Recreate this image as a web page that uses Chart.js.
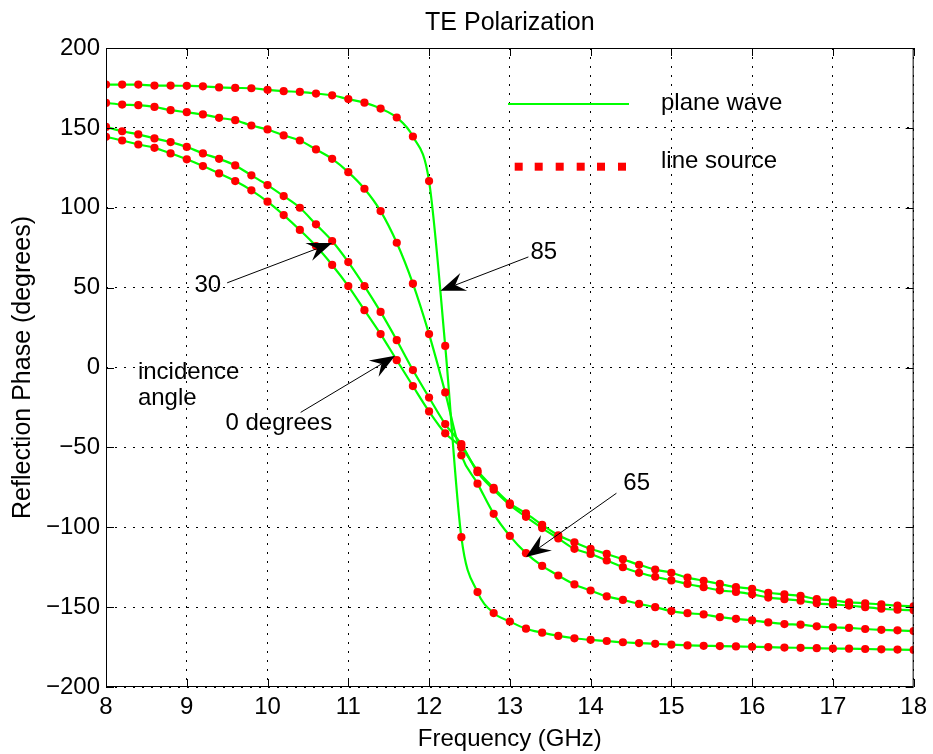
<!DOCTYPE html>
<html>
<head>
<meta charset="utf-8">
<script src="https://cdn.jsdelivr.net/npm/chart.js@4.4.0/dist/chart.umd.min.js"></script>
<style>
  html, body { margin: 0; padding: 0; background: #fff; }
  #wrap { width: 933px; height: 754px; }
</style>
</head>
<body>
<div id="wrap"><canvas id="chart-phase"></canvas></div>
<script>
const freq = [8.0, 8.2, 8.4, 8.6, 8.8, 9.0, 9.2, 9.4, 9.6, 9.8,
  10.0, 10.2, 10.4, 10.6, 10.8, 11.0, 11.2, 11.4, 11.6, 11.8,
  12.0, 12.2, 12.4, 12.6, 12.8, 13.0, 13.2, 13.4, 13.6, 13.8,
  14.0, 14.2, 14.4, 14.6, 14.8, 15.0, 15.2, 15.4, 15.6, 15.8,
  16.0, 16.2, 16.4, 16.6, 16.8, 17.0, 17.2, 17.4, 17.6, 17.8, 18.0];

// reflection phase (degrees) for each incidence angle
const phase0 = [144.4, 142.1, 139.6, 137.5, 134, 130.3, 126.1, 121.5, 116.7, 110.9,
  103.8, 95.4, 86.1, 76, 64.2, 51, 35.9, 20.9, 4.6, -11.6,
  -27.5, -41.2, -50, -64.6, -75.4, -85, -91.3, -98.5, -105, -109.4,
  -113.5, -116.7, -120, -123.5, -126.5, -128.5, -131.5, -133.5, -135.5, -137.5,
  -138.5, -141, -142, -143, -145, -145.8, -147, -147.6, -148.3, -149, -149.5];
const phase30 = [150.6, 147.9, 145.9, 143.4, 141.1, 138.1, 134, 130.6, 126.5, 120.3,
  114.2, 107.3, 100, 89.6, 79.2, 66, 51, 34.8, 17.1, -1.6,
  -18.8, -35.4, -48, -65.5, -76.5, -86, -93.5, -100.5, -107, -113.5,
  -116.7, -120.8, -125, -128.5, -131, -133.3, -135.5, -137.5, -139.5, -140.5,
  -142, -144, -145, -146, -147.6, -148.3, -149, -150, -151, -151.6, -152];
const phase65 = [165.6, 164.6, 164.2, 163.1, 161.1, 159.8, 158.4, 156.3, 154.8, 151.5,
  149, 145.3, 142.1, 136.5, 130.6, 122.3, 111.9, 97.9, 78.1, 52.5,
  20.9, -15.6, -55, -72.7, -91.6, -105.4, -116.2, -124.2, -130.2, -135.8,
  -139.6, -143.3, -145.5, -148, -150, -152.5, -153.8, -154.6, -156.3, -157.3,
  -158.3, -159.6, -160.6, -161, -162, -162.6, -163, -163.7, -164.2, -164.5, -165];
const phase85 = [177.1, 177.1, 177.1, 176.5, 176.5, 176.3, 176, 175.3, 175, 174.8,
  173.8, 173, 172.5, 171.5, 170.4, 168, 165.8, 162.1, 156.5, 144.6,
  116.7, 13.5, -106.2, -140.6, -153.7, -159, -163.5, -166, -168, -169.5,
  -170.5, -171.2, -172, -172.5, -173, -173.5, -174, -174.2, -174.4, -174.6,
  -174.8, -175, -175.3, -175.5, -175.7, -175.9, -176, -176.2, -176.4, -176.6, -176.8];

const xTicks = [8, 9, 10, 11, 12, 13, 14, 15, 16, 17, 18];
const yTicks = [-200, -150, -100, -50, 0, 50, 100, 150, 200];

// text notes and arrows, in data units
const labels = [
  { text: '30', x: 9.26, y: 51.5, align: 'center' },
  { text: '85', x: 13.42, y: 72.3, align: 'center' },
  { text: '65', x: 14.57, y: -72.7, align: 'center' },
  { text: 'incidence', x: 8.395, y: -3, align: 'left' },
  { text: 'angle', x: 8.395, y: -19.5, align: 'left' },
  { text: '0 degrees', x: 10.14, y: -35.2, align: 'center' }
];
const arrows = [
  { from: [9.5, 53], to: [10.8, 78] },
  { from: [13.23, 69.2], to: [12.14, 48] },
  { from: [10.41, -28.1], to: [11.58, 7.3] },
  { from: [14.32, -78.7], to: [13.2, -118.7] }
];

const GREEN = '#00ff00';
const RED = '#ff0000';
Chart.defaults.font.family = "'Liberation Sans', Arial, Helvetica, sans-serif";
Chart.defaults.font.size = 24;
Chart.defaults.color = '#000';

const toPoints = arr => arr.map((v, i) => ({ x: freq[i], y: v }));
const datasets = [];
[phase0, phase30, phase65, phase85].forEach(c => {
  datasets.push({
    label: 'plane wave', data: toPoints(c),
    borderColor: GREEN, borderWidth: 2.2, pointRadius: 0,
    cubicInterpolationMode: 'monotone', order: 2
  });
  datasets.push({
    label: 'line source', data: toPoints(c), showLine: false,
    pointRadius: 4.1, pointBackgroundColor: RED, pointBorderWidth: 0, order: 1
  });
});

function drawArrow(ctx, x1, y1, x2, y2) {
  const ang = Math.atan2(y2 - y1, x2 - x1);
  const len = 25, half = 9.5, notch = 16;
  ctx.beginPath();
  ctx.moveTo(x1, y1);
  ctx.lineTo(x2 - notch * Math.cos(ang), y2 - notch * Math.sin(ang));
  ctx.stroke();
  ctx.save();
  ctx.translate(x2, y2);
  ctx.rotate(ang);
  ctx.beginPath();
  ctx.moveTo(0, 0);
  ctx.lineTo(-len, -half);
  ctx.lineTo(-notch, 0);
  ctx.lineTo(-len, half);
  ctx.closePath();
  ctx.fill();
  ctx.restore();
}

const matlabFrame = {
  id: 'matlabFrame',
  afterDraw(chart) {
    const { ctx, chartArea: a, scales: { x, y } } = chart;
    ctx.save();
    ctx.strokeStyle = '#000';
    ctx.fillStyle = '#000';
    ctx.lineWidth = 1;
    ctx.setLineDash([]);
    ctx.strokeRect(a.left + 0.5, a.top + 0.5, a.right - a.left - 1, a.bottom - a.top - 1);
    const tl = 8;
    ctx.beginPath();
    xTicks.forEach(v => {
      const px = Math.round(x.getPixelForValue(v)) + 0.5;
      ctx.moveTo(px, a.bottom); ctx.lineTo(px, a.bottom - tl);
      ctx.moveTo(px, a.top); ctx.lineTo(px, a.top + tl);
    });
    yTicks.forEach(v => {
      const py = Math.round(y.getPixelForValue(v)) + 0.5;
      ctx.moveTo(a.left, py); ctx.lineTo(a.left + tl, py);
      ctx.moveTo(a.right, py); ctx.lineTo(a.right - tl, py);
    });
    ctx.stroke();

    // arrows and notes
    arrows.forEach(ar => {
      drawArrow(ctx, x.getPixelForValue(ar.from[0]), y.getPixelForValue(ar.from[1]),
        x.getPixelForValue(ar.to[0]), y.getPixelForValue(ar.to[1]));
    });
    ctx.font = "24px 'Liberation Sans', Arial, sans-serif";
    ctx.textBaseline = 'middle';
    labels.forEach(l => {
      ctx.textAlign = l.align;
      ctx.fillText(l.text, x.getPixelForValue(l.x), y.getPixelForValue(l.y));
    });

    // legend
    const lx = a.left + 402, ly = a.top + 56;
    ctx.strokeStyle = GREEN;
    ctx.lineWidth = 2;
    ctx.beginPath();
    ctx.moveTo(lx, ly); ctx.lineTo(lx + 121, ly);
    ctx.stroke();
    ctx.fillStyle = RED;
    [10.7, 30.7, 51.7, 72.7, 93, 114].forEach(dx => {
      ctx.fillRect(lx + dx - 4, ly + 62.7 - 4, 8, 8);
    });
    ctx.fillStyle = '#000';
    ctx.textAlign = 'left';
    ctx.fillText('plane wave', a.left + 555, a.top + 55.5);
    ctx.fillText('line source', a.left + 555, a.top + 113.7);
    ctx.restore();
  }
};

const minus = v => String(v).replace('-', '\u2212');

new Chart(document.getElementById('chart-phase'), {
  type: 'line',
  data: { datasets: datasets },
  options: {
    responsive: true,
    maintainAspectRatio: false,
    animation: false,
    layout: { padding: { left: 0, right: 16, top: 0, bottom: 0 } },
    plugins: {
      legend: { display: false },
      tooltip: { enabled: false },
      title: {
        display: true, text: 'TE Polarization', fullSize: false,
        color: '#000', font: { size: 25, weight: 'normal' },
        padding: { top: 8, bottom: 10 }
      }
    },
    scales: {
      x: {
        type: 'linear', min: 8, max: 18,
        afterFit: s => { s.height = 67; },
        ticks: { stepSize: 1, padding: 6, color: '#000', maxRotation: 0, autoSkip: false, callback: minus },
        grid: { color: '#000', drawTicks: false, lineWidth: 1 },
        border: { display: false, dash: [2, 7] },
        title: { display: true, text: 'Frequency (GHz)', color: '#000', font: { size: 24 }, padding: { top: 0, bottom: 0 } }
      },
      y: {
        type: 'linear', min: -200, max: 200,
        afterFit: s => { s.width = 106; },
        ticks: { stepSize: 50, padding: 6, color: '#000', callback: minus },
        grid: { color: '#000', drawTicks: false, lineWidth: 1 },
        border: { display: false, dash: [2, 7] },
        title: { display: true, text: 'Reflection Phase (degrees)', color: '#000', font: { size: 25 }, padding: { top: 8, bottom: 0 } }
      }
    }
  },
  plugins: [matlabFrame]
});
</script>
</body>
</html>
